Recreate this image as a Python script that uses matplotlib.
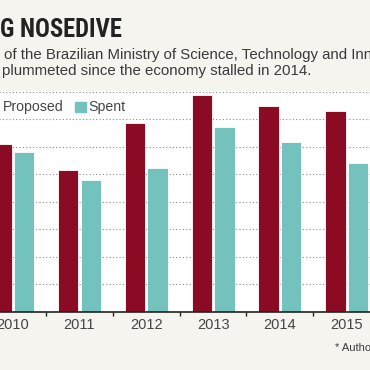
import matplotlib
matplotlib.use("Agg")
import matplotlib.pyplot as plt
from matplotlib.patches import Rectangle
from matplotlib import font_manager as fm
import numpy as np

years = ["2010", "2011", "2012", "2013", "2014", "2015"]
proposed = [6.11, 5.17, 6.87, 7.86, 7.47, 7.31]
spent = [5.79, 4.79, 5.23, 6.70, 6.16, 5.40]

title = "G NOSEDIVE"
sub1 = "of the Brazilian Ministry of Science, Technology and Innovation"
sub2 = "plummeted since the economy stalled in 2014."
note = "* Authorized"

BG = "#f6f4ef"
RED = "#8a0b23"
TEAL = "#73c2be"
TXT = "#3a3a3a"

# pick the narrowest available condensed bold font for the title
cands = []
for f in fm.fontManager.ttflist:
    nm = (f.name + " " + str(f.fname)).lower()
    if ("narrow" in nm or "condensed" in nm or "cond" in nm) and (
        f.weight in ("bold", 700, "heavy", 800) or "bold" in nm):
        if "oblique" in nm or "italic" in nm:
            continue
        cands.append(f)

def rank(f):
    nm = (f.name + " " + str(f.fname)).lower()
    if "roboto" in nm:
        return 0
    if "open" in nm:
        return 1
    if "noto" in nm:
        return 2
    if "liberation" in nm:
        return 3
    if "dejavu" in nm:
        return 4
    return 5

cands.sort(key=rank)
if cands:
    title_fp = fm.FontProperties(fname=cands[0].fname, size=19.5)
else:
    title_fp = fm.FontProperties(family="DejaVu Sans", weight="bold", size=19.5)

W = H = 370
fig = plt.figure(figsize=(3.7, 3.7), dpi=100, facecolor=BG)

def fx(p):
    return p / W

def fy(p):
    return (H - p) / H

# axes: y=0 at pixel 312, y=8 at pixel 91; x from pixel -30 to 400
ax = fig.add_axes([fx(-30), fy(312), (430) / W, (312 - 91) / H])
ax.set_facecolor("white")
x = np.arange(len(years))
bw = 0.305
off = 0.17
ax.bar(x - off, proposed, bw, color=RED, edgecolor="white", linewidth=0.6, zorder=3)
ax.bar(x + off, spent, bw, color=TEAL, edgecolor="white", linewidth=0.6, zorder=3)

ax.set_xlim((-30 - 12.7) / 66.8, (400 - 12.7) / 66.8)
ax.set_ylim(0, 8.02)
ax.set_yticks(np.arange(0, 9, 1))
ax.yaxis.grid(True, color="#8a8a8a", linestyle=(0, (1, 2)), linewidth=0.8, zorder=1)
ax.tick_params(axis="y", left=False, labelleft=False)
for s in ["left", "right", "top"]:
    ax.spines[s].set_visible(False)
ax.spines["bottom"].set_color("#222222")
ax.spines["bottom"].set_linewidth(1.2)
ax.spines["bottom"].set_zorder(4)

ax.set_xticks(x)
ax.set_xticklabels(years, fontsize=10.5, color="#454545", family="Liberation Sans")
ax.set_xticks(np.arange(-0.5, len(years) + 0.5, 1), minor=True)
ax.tick_params(axis="x", which="major", length=0, pad=4.5)
ax.tick_params(axis="x", which="minor", length=3, width=1, color="#222222", direction="out")

# legend (manual)
fig.text(fx(2.7), fy(107.5), "Proposed", fontsize=10.2, color="#454545",
         family="Liberation Sans", va="center", ha="left")
fig.patches.append(Rectangle((fx(-13), fy(112.3)), 11 / W, 10 / H,
                             transform=fig.transFigure, color=RED, figure=fig))
fig.patches.append(Rectangle((fx(75), fy(112.3)), 11 / W, 10 / H,
                             transform=fig.transFigure, color=TEAL, figure=fig))
fig.text(fx(88), fy(107.5), "Spent", fontsize=10.2, color="#454545",
         family="Liberation Sans", va="center", ha="left")

# titles
t = fig.text(fx(0), fy(36.7), title, fontproperties=title_fp, color="#222222",
             va="baseline", ha="left")
# fit title width close to the reference (~120 px) with a cap on size
fig.canvas.draw()
wpx = t.get_window_extent(fig.canvas.get_renderer()).width
target = 122.0
new_size = min(19.5, 19.5 * target / wpx) if wpx > 0 else 16
new_size = max(new_size, 15.5)
t.set_fontsize(new_size)

fig.text(fx(4), fy(59.5), sub1, fontsize=10.8, color=TXT,
         family="Liberation Sans", va="baseline", ha="left")
fig.text(fx(2), fy(75.5), sub2, fontsize=10.8, color=TXT,
         family="Liberation Sans", va="baseline", ha="left")
fig.text(fx(335), fy(347.7), note, fontsize=8, color=TXT,
         family="Liberation Sans", va="center", ha="left")

fig.savefig("out.png", dpi=100, facecolor=BG)
